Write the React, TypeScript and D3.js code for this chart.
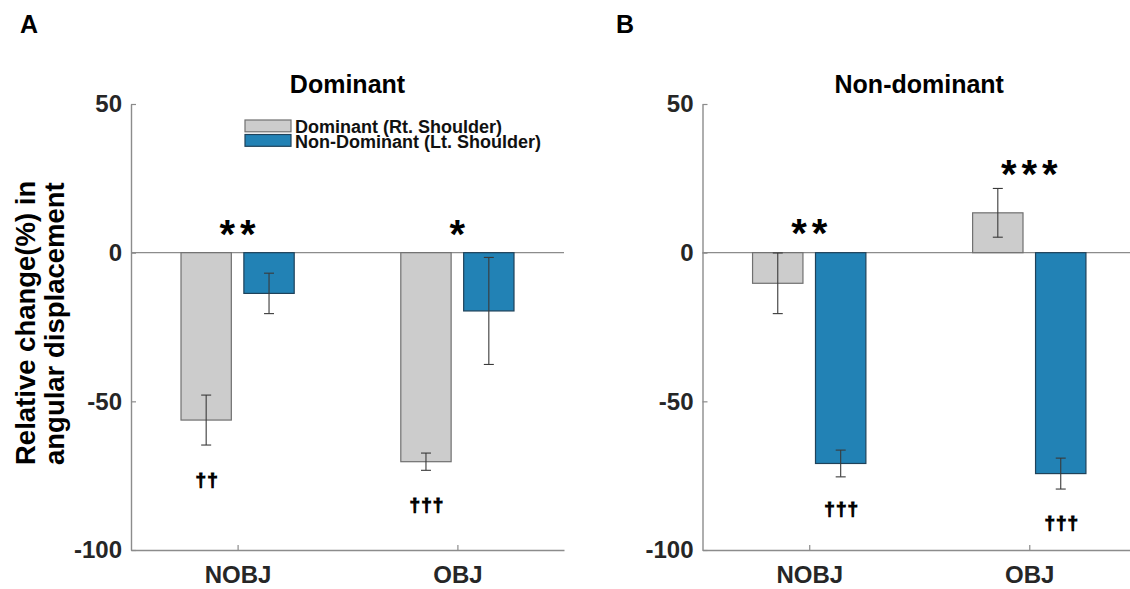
import { useEffect, useRef } from "react";
import * as d3 from "d3";

const categories = ["NOBJ", "OBJ"];
const seriesNames = ["Dominant (Rt. Shoulder)", "Non-Dominant (Lt. Shoulder)"];
const yTicks = [-100, -50, 0, 50];

// panel A (Dominant)
const domRt = [-56.3, -70.3];
const domRtErr = [8.4, 2.9];
const domLt = [-13.7, -19.6];
const domLtErr = [6.8, 18.0];

// panel B (Non-dominant)
const nonRt = [-10.3, 13.4];
const nonRtErr = [10.2, 8.2];
const nonLt = [-70.9, -74.3];
const nonLtErr = [4.5, 5.2];

// significance marks
const starsA = ["**", "*"];
const starsAY = [9, 9];
const starsB = ["**", "***"];
const starsBY = [9.3, 29.2];
const daggersA = ["††", "†††"];
const daggersASeries = [0, 0];
const daggersAY = [-76.5, -84.9];
const daggersB = ["†††", "†††"];
const daggersBSeries = [1, 1];
const daggersBY = [-86.5, -91.1];

const FONT = "'Liberation Sans', Arial, Helvetica, sans-serif";
const colors = ["#cccccc", "#2282b5"];
const strokes = ["#707070", "#1f425a"];

const App = () => {
  const ref = useRef<SVGSVGElement>(null);

  useEffect(() => {
    const svg = d3.select(ref.current);
    svg.selectAll("*").remove();

    const y = d3.scaleLinear().domain([-100, 50]).range([550, 104]);
    const bw = 0.229;
    const off = [-0.143, 0.143];

    const panels = [
      {
        label: "A", labelX: 20, title: "Dominant", x0: 131, x1: 564,
        vals: [domRt, domLt], errs: [domRtErr, domLtErr],
        stars: starsA, starsY: starsAY,
        daggers: daggersA, daggersS: daggersASeries, daggersY: daggersAY,
        legend: true,
      },
      {
        label: "B", labelX: 616, title: "Non-dominant", x0: 702.5, x1: 1136,
        vals: [nonRt, nonLt], errs: [nonRtErr, nonLtErr],
        stars: starsB, starsY: starsBY,
        daggers: daggersB, daggersS: daggersBSeries, daggersY: daggersBY,
        legend: false,
      },
    ];

    panels.forEach((p) => {
      const x = d3.scaleLinear().domain([0.515, 2.485]).range([p.x0, p.x1]);
      const g = svg.append("g");

      g.append("text")
        .attr("x", p.labelX).attr("y", 33)
        .attr("font-family", FONT).attr("font-weight", "bold").attr("font-size", 25)
        .text(p.label);

      g.append("text")
        .attr("x", (p.x0 + p.x1) / 2).attr("y", 93)
        .attr("text-anchor", "middle")
        .attr("font-family", FONT).attr("font-weight", "bold").attr("font-size", 25)
        .text(p.title);

      // zero baseline
      g.append("line")
        .attr("x1", p.x0).attr("x2", p.x1)
        .attr("y1", y(0)).attr("y2", y(0))
        .attr("stroke", "#8c8c8c").attr("stroke-width", 1.2);

      // bars
      p.vals.forEach((vals, si) => {
        vals.forEach((v, ci) => {
          const c = ci + 1 + off[si];
          g.append("rect")
            .attr("x", x(c - bw / 2))
            .attr("width", x(c + bw / 2) - x(c - bw / 2))
            .attr("y", y(Math.max(0, v)))
            .attr("height", Math.abs(y(v) - y(0)))
            .attr("fill", colors[si])
            .attr("stroke", strokes[si]).attr("stroke-width", 1.2);
        });
      });

      // error bars
      p.vals.forEach((vals, si) => {
        vals.forEach((v, ci) => {
          const cx = x(ci + 1 + off[si]);
          const e = p.errs[si][ci];
          const eg = g.append("g").attr("stroke", "#3a3a3a").attr("stroke-width", 1.1);
          eg.append("line").attr("x1", cx).attr("x2", cx).attr("y1", y(v + e)).attr("y2", y(v - e));
          [v + e, v - e].forEach((t) => {
            eg.append("line").attr("x1", cx - 5).attr("x2", cx + 5).attr("y1", y(t)).attr("y2", y(t));
          });
        });
      });

      // stars above groups
      p.stars.forEach((s, ci) => {
        const fs = 40;
        g.append("text")
          .attr("x", x(ci + 1) + 2.5)
          .attr("y", y(p.starsY[ci]) + 0.557 * fs)
          .attr("text-anchor", "middle")
          .attr("letter-spacing", 5)
          .attr("font-family", FONT).attr("font-weight", "bold").attr("font-size", fs)
          .text(s);
      });

      // daggers below bars
      p.daggers.forEach((s, ci) => {
        const fs = 19;
        g.append("text")
          .attr("x", x(ci + 1 + off[p.daggersS[ci]]) + 1)
          .attr("y", y(p.daggersY[ci]) + 0.29 * fs)
          .attr("text-anchor", "middle")
          .attr("letter-spacing", 1)
          .attr("stroke", "#000").attr("stroke-width", 1)
          .attr("font-family", FONT).attr("font-weight", "bold").attr("font-size", fs)
          .text(s);
      });

      // axes
      const yAxis = g.append("g")
        .attr("transform", `translate(${p.x0},0)`)
        .call(
          d3.axisLeft(y).tickValues(yTicks)
            .tickFormat((d) => String(d))
            .tickSizeInner(-5).tickSizeOuter(0).tickPadding(9)
        );
      const xAxis = g.append("g")
        .attr("transform", `translate(0,${y(-100)})`)
        .call(
          d3.axisBottom(x).tickValues([1, 2])
            .tickFormat((d) => categories[(d as number) - 1])
            .tickSizeInner(-5).tickSizeOuter(0)
        );
      [yAxis, xAxis].forEach((a) => {
        a.select(".domain").attr("stroke", "#8c8c8c").attr("stroke-width", 1.4);
        a.selectAll(".tick line").attr("stroke", "#8c8c8c").attr("stroke-width", 1.2);
        a.selectAll("text")
          .attr("font-family", FONT).attr("font-weight", "bold").attr("font-size", 24)
          .attr("fill", "#262626");
      });
      xAxis.selectAll("text").attr("y", 33).attr("dy", "0");

      if (p.legend) {
        const lg = g.append("g");
        seriesNames.forEach((n, i) => {
          lg.append("rect")
            .attr("x", 245).attr("y", 120 + i * 14.5)
            .attr("width", 46).attr("height", 11.8)
            .attr("fill", colors[i]).attr("stroke", strokes[i]).attr("stroke-width", 1.2);
          lg.append("text")
            .attr("x", 295).attr("y", 133 + i * 15)
            .attr("font-family", FONT).attr("font-weight", "bold").attr("font-size", 18)
            .attr("fill", "#111")
            .text(n);
        });
      }
    });

    // y axis label
    const yl = svg.append("g").attr("font-family", FONT).attr("font-weight", "bold").attr("font-size", 27.5);
    ["Relative change(%) in", "angular displacement"].forEach((t, i) => {
      yl.append("text")
        .attr("transform", `translate(${35 + i * 29},465) rotate(-90)`)
        .attr("text-anchor", "start")
        .text(t);
    });
  }, []);

  return (
    <svg
      ref={ref}
      width={1130}
      height={589}
      style={{ position: "absolute", left: 0, top: 0, background: "#fff" }}
    />
  );
};

export default App;
